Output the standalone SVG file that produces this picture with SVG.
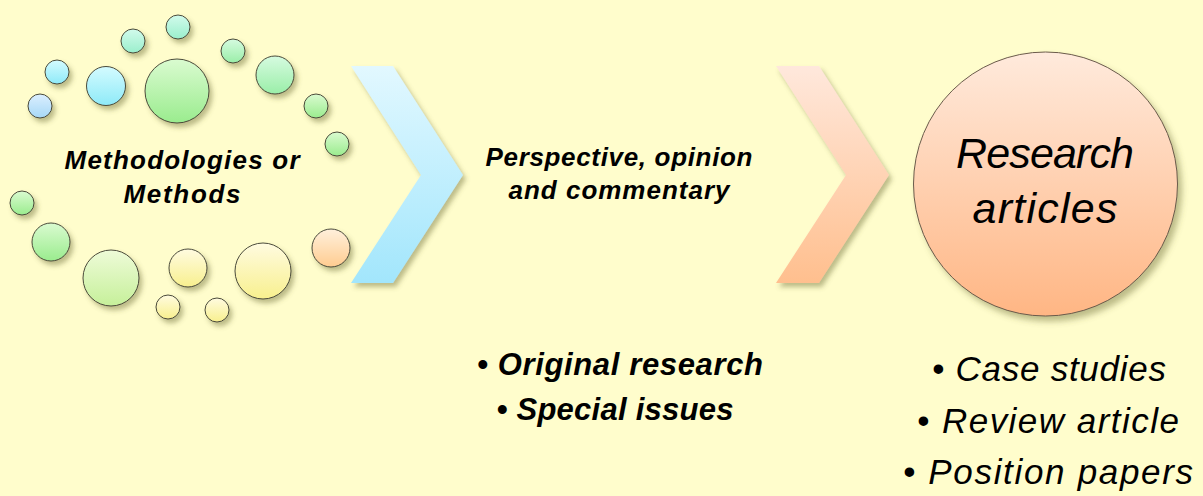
<svg xmlns="http://www.w3.org/2000/svg" width="1203" height="496" viewBox="0 0 1203 496">
<defs>
<filter id="sh" x="-30%" y="-30%" width="170%" height="170%">
<feDropShadow dx="3" dy="4" stdDeviation="2.5" flood-color="#6b6a30" flood-opacity="0.45"/>
</filter>
<filter id="shc" x="-30%" y="-30%" width="170%" height="170%">
<feDropShadow dx="4" dy="5" stdDeviation="3" flood-color="#6b6a30" flood-opacity="0.45"/>
</filter>
<linearGradient id="gMint" x1="0" y1="0" x2="0" y2="1"><stop offset="0" stop-color="#d2fbec"/><stop offset="1" stop-color="#9aefcc"/></linearGradient>
<linearGradient id="gCyan" x1="0" y1="0" x2="0" y2="1"><stop offset="0" stop-color="#d4fbff"/><stop offset="1" stop-color="#8eeaf8"/></linearGradient>
<linearGradient id="gBlue" x1="0" y1="0" x2="0" y2="1"><stop offset="0" stop-color="#dcefff"/><stop offset="1" stop-color="#a6d8f6"/></linearGradient>
<linearGradient id="gGreen" x1="0" y1="0" x2="0" y2="1"><stop offset="0" stop-color="#dafbd0"/><stop offset="1" stop-color="#9aec8e"/></linearGradient>
<linearGradient id="gMintG" x1="0" y1="0" x2="0" y2="1"><stop offset="0" stop-color="#d6fbe0"/><stop offset="1" stop-color="#9aeea8"/></linearGradient>
<linearGradient id="gYG" x1="0" y1="0" x2="0" y2="1"><stop offset="0" stop-color="#eefbd8"/><stop offset="1" stop-color="#c6f09a"/></linearGradient>
<linearGradient id="gYel" x1="0" y1="0" x2="0" y2="1"><stop offset="0" stop-color="#fffbe0"/><stop offset="1" stop-color="#f8f08e"/></linearGradient>
<linearGradient id="gOr" x1="0" y1="0" x2="0" y2="1"><stop offset="0" stop-color="#fff0dc"/><stop offset="1" stop-color="#ffcc90"/></linearGradient>
<linearGradient id="gChev1" x1="0" y1="0" x2="0" y2="1"><stop offset="0" stop-color="#e2f8ff"/><stop offset="1" stop-color="#a2e6fc"/></linearGradient>
<linearGradient id="gChev2" x1="0" y1="0" x2="0" y2="1"><stop offset="0" stop-color="#ffe8dc"/><stop offset="1" stop-color="#ffbf8e"/></linearGradient>
<linearGradient id="gBig" x1="0" y1="0" x2="0" y2="1"><stop offset="0" stop-color="#ffeadc"/><stop offset="1" stop-color="#ffb684"/></linearGradient>
</defs>
<style>
.dot{stroke:#4a4a3a;stroke-width:1;filter:url(#sh)}
.t{font-family:"Liberation Sans",Arial,sans-serif;fill:#000;text-anchor:middle}
.bi{font-weight:bold;font-style:italic}
.i{font-style:italic}
</style>
<rect width="1203" height="496" fill="#fffdcc"/>
<g id="methods">
<circle class="dot" cx="178" cy="27" r="12" fill="url(#gMint)"/>
<circle class="dot" cx="133" cy="41" r="12" fill="url(#gMint)"/>
<circle class="dot" cx="233" cy="51" r="12" fill="url(#gMintG)"/>
<circle class="dot" cx="57" cy="72" r="12" fill="url(#gCyan)"/>
<circle class="dot" cx="106" cy="86" r="19.5" fill="url(#gCyan)"/>
<circle class="dot" cx="177" cy="91" r="32" fill="url(#gGreen)"/>
<circle class="dot" cx="275" cy="75" r="19" fill="url(#gMintG)"/>
<circle class="dot" cx="40" cy="106" r="12" fill="url(#gBlue)"/>
<circle class="dot" cx="316" cy="106" r="12" fill="url(#gGreen)"/>
<circle class="dot" cx="337" cy="144" r="12" fill="url(#gGreen)"/>
<circle class="dot" cx="22" cy="203" r="12" fill="url(#gGreen)"/>
<circle class="dot" cx="51" cy="242" r="19" fill="url(#gGreen)"/>
<circle class="dot" cx="111" cy="278" r="28" fill="url(#gYG)"/>
<circle class="dot" cx="188" cy="268" r="19" fill="url(#gYel)"/>
<circle class="dot" cx="263" cy="271" r="28" fill="url(#gYel)"/>
<circle class="dot" cx="331" cy="248" r="19" fill="url(#gOr)"/>
<circle class="dot" cx="168" cy="307" r="12" fill="url(#gYel)"/>
<circle class="dot" cx="217" cy="310" r="12" fill="url(#gYel)"/>
<text class="t bi" x="182" y="169" font-size="26" textLength="235">Methodologies or</text>
<text class="t bi" x="182" y="203" font-size="26" textLength="117">Methods</text>
</g>
<g id="connectors">
<polygon points="351,66 393,66 463,175 393,283 351,283 421,175" fill="url(#gChev1)" filter="url(#sh)"/>
<polygon points="776,66 819,66 889,175 819,283 776,283 846,175" fill="url(#gChev2)" filter="url(#sh)"/>
</g>
<g id="perspective">
<text class="t bi" x="619" y="166" font-size="26" textLength="267">Perspective, opinion</text>
<text class="t bi" x="619" y="199" font-size="26" textLength="221">and commentary</text>
<text class="t bi" x="620" y="375" font-size="31" textLength="286">• Original research</text>
<text class="t bi" x="615" y="420" font-size="31" textLength="237">• Special issues</text>
</g>
<g id="research">
<circle cx="1045.5" cy="184" r="132" fill="url(#gBig)" stroke="#6a5a4a" stroke-width="1" filter="url(#shc)"/>
<text class="t i" x="1045" y="168" font-size="43" textLength="178">Research</text>
<text class="t i" x="1045" y="223" font-size="43" textLength="145">articles</text>
<text class="t i" x="1049" y="381" font-size="35" textLength="234">•  Case studies</text>
<text class="t i" x="1048" y="433" font-size="35" textLength="262">•  Review article</text>
<text class="t i" x="1048" y="484" font-size="35" textLength="290">•  Position papers</text>
</g>
</svg>
